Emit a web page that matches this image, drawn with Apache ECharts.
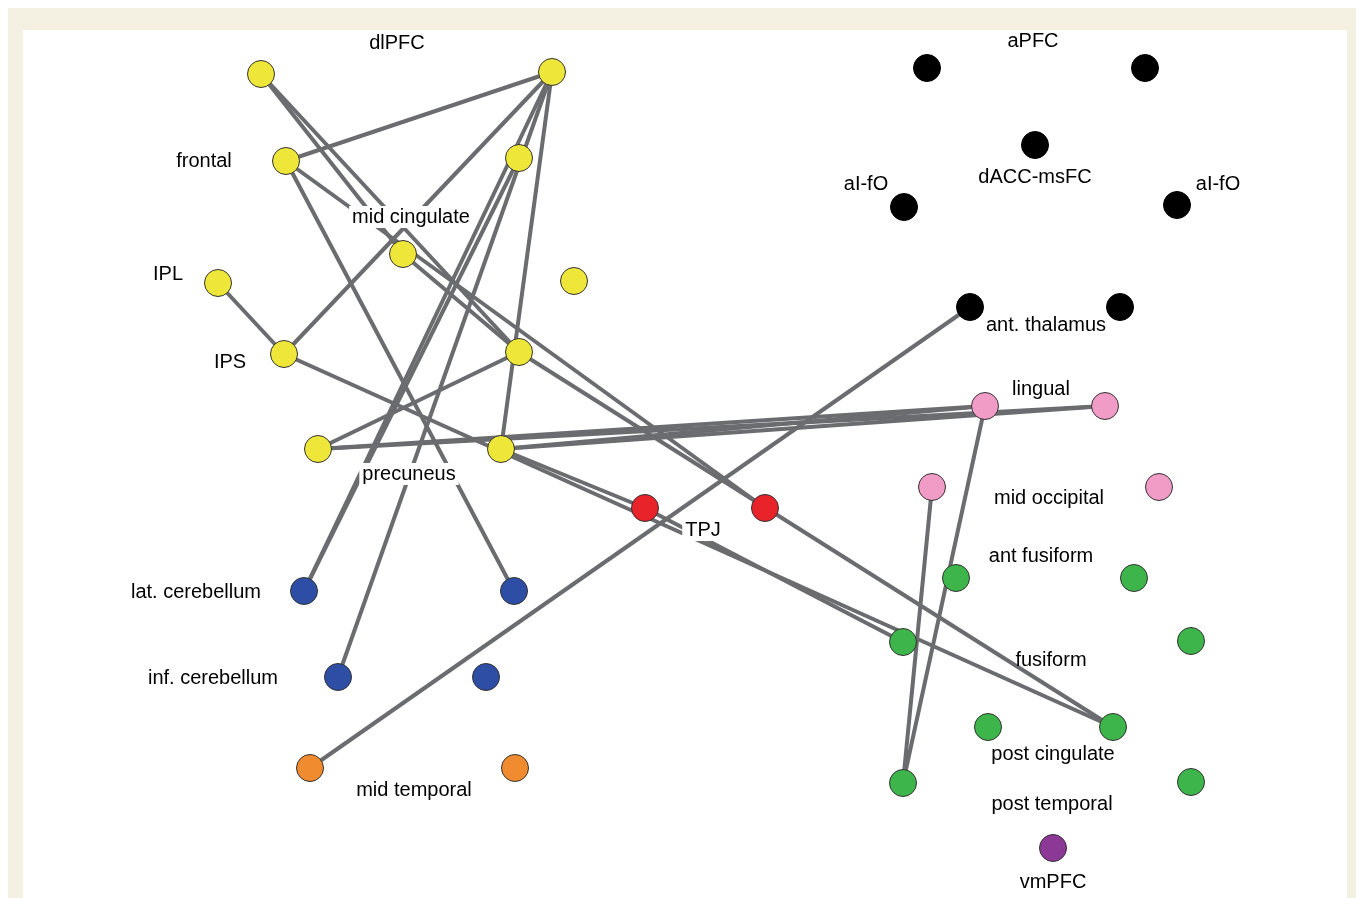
<!DOCTYPE html>
<html>
<head>
<meta charset="utf-8">
<script src="https://cdn.jsdelivr.net/npm/echarts@6/dist/echarts.min.js"></script>
<style>
  html, body { margin: 0; padding: 0; background: #fff; }
  #chart { width: 1362px; height: 898px; }
</style>
</head>
<body>
<div id="chart"></div>
<script>
// nodes: id, region, position (pixel grid of the panel)
const nodeIds = [
  'Y1', 'Y2', 'Y3', 'Y4', 'Y5', 'Y6', 'Y7', 'Y8', 'Y9', 'Y10', 'Y11',
  'R1', 'R2',
  'B1', 'B2', 'B3', 'B4',
  'O1', 'O2',
  'K1', 'K2', 'K3', 'K4', 'K5', 'K6', 'K7',
  'P1', 'P2', 'P3', 'P4',
  'G1', 'G2', 'G3', 'G4', 'G5', 'G6', 'G7', 'G8',
  'V1'
];
const nodeRegion = [
  'yellow', 'yellow', 'yellow', 'yellow', 'yellow', 'yellow', 'yellow', 'yellow', 'yellow', 'yellow', 'yellow',
  'red', 'red',
  'blue', 'blue', 'blue', 'blue',
  'orange', 'orange',
  'black', 'black', 'black', 'black', 'black', 'black', 'black',
  'pink', 'pink', 'pink', 'pink',
  'green', 'green', 'green', 'green', 'green', 'green', 'green', 'green',
  'purple'
];
const nodeX = [
  261, 552, 286, 519, 403, 574, 218, 284, 519, 318, 501,
  645, 765,
  304, 514, 338, 486,
  310, 515,
  927, 1145, 1035, 904, 1177, 970, 1120,
  985, 1105, 932, 1159,
  956, 1134, 903, 1191, 988, 1113, 903, 1191,
  1053
];
const nodeY = [
  74, 72, 161, 158, 254, 281, 283, 354, 352, 449, 449,
  508, 508,
  591, 591, 677, 677,
  768, 768,
  68, 68, 145, 207, 205, 307, 307,
  406, 406, 487, 487,
  578, 578, 642, 641, 727, 727, 783, 782,
  848
];

// connections
const edgeFrom = ['Y2', 'Y2', 'Y2', 'Y2', 'Y2', 'Y4', 'Y1', 'Y1', 'Y3', 'Y3', 'Y5', 'Y7', 'Y8', 'Y11', 'R1', 'Y9', 'Y9', 'Y10', 'Y10', 'Y11', 'Y11', 'P1', 'P3', 'K6'];
const edgeTo   = ['Y3', 'Y8', 'B1', 'B3', 'Y11', 'B1', 'Y5', 'Y9', 'B2', 'R2', 'Y9', 'Y8', 'G6', 'R1', 'G3', 'Y10', 'G6', 'P1', 'P2', 'P1', 'P2', 'G7', 'G7', 'O1'];

// region names
const labelTexts = [
  'dlPFC', 'frontal', 'mid cingulate', 'IPL', 'IPS', 'precuneus', 'TPJ',
  'lat. cerebellum', 'inf. cerebellum', 'mid temporal',
  'aPFC', 'dACC-msFC', 'aI-fO', 'aI-fO', 'ant. thalamus',
  'lingual', 'mid occipital', 'ant fusiform', 'fusiform',
  'post cingulate', 'post temporal', 'vmPFC'
];
const labelX = [397, 204, 411, 168, 230, 409, 703, 196, 213, 414, 1033, 1035, 866, 1218, 1046, 1041, 1049, 1041, 1051, 1053, 1052, 1053];
const labelY = [43, 161, 217, 274, 362, 474, 530, 592, 678, 790, 41, 177, 184, 184, 325, 389, 498, 556, 660, 754, 804, 882];
const boxedLabels = ['mid cingulate', 'precuneus', 'TPJ'];

const regionColor = {
  yellow: '#eee73a',
  red: '#e8232a',
  blue: '#2e4ea6',
  orange: '#f18b2f',
  pink: '#f09cc7',
  green: '#3db54b',
  black: '#000000',
  purple: '#8c3897'
};

const chart = echarts.init(document.getElementById('chart'));

const nodes = nodeIds.map((id, i) => ({
  name: id,
  value: [nodeX[i], nodeY[i]],
  itemStyle: {
    color: regionColor[nodeRegion[i]],
    borderColor: nodeRegion[i] === 'black' ? '#000' : '#333',
    borderWidth: 1
  }
}));

const links = edgeFrom.map((s, i) => ({ source: s, target: edgeTo[i] }));

const labels = labelTexts.map((t, i) => {
  const boxed = boxedLabels.indexOf(t) >= 0;
  return {
    name: t,
    value: [labelX[i], labelY[i]],
    label: boxed ? { backgroundColor: '#fff', padding: [1, 3] } : {}
  };
});

chart.setOption({
  animation: false,
  graphic: [
    { type: 'rect', z: 0, shape: { x: 8, y: 8, width: 1348, height: 890 }, style: { fill: '#f4f1e3' } },
    { type: 'rect', z: 0, shape: { x: 23, y: 30, width: 1324, height: 868 }, style: { fill: '#ffffff' } }
  ],
  grid: { left: 0, right: 0, top: 0, bottom: 0 },
  xAxis: { type: 'value', min: 0, max: 1362, show: false },
  yAxis: { type: 'value', min: 0, max: 898, inverse: true, show: false },
  series: [
    {
      type: 'graph',
      coordinateSystem: 'cartesian2d',
      z: 5,
      symbol: 'circle',
      symbolSize: 27,
      data: nodes,
      links: links,
      lineStyle: { color: '#6b6c6f', width: 4, opacity: 1, curveness: 0 },
      label: { show: false },
      emphasis: { disabled: true }
    },
    {
      type: 'scatter',
      z: 10,
      symbolSize: 0,
      data: labels,
      silent: true,
      itemStyle: { opacity: 1 },
      label: {
        show: true,
        position: 'inside',
        formatter: '{b}',
        color: '#000',
        opacity: 1,
        fontFamily: 'Liberation Sans, Arial, sans-serif',
        fontSize: 20
      }
    }
  ]
});
</script>
</body>
</html>
